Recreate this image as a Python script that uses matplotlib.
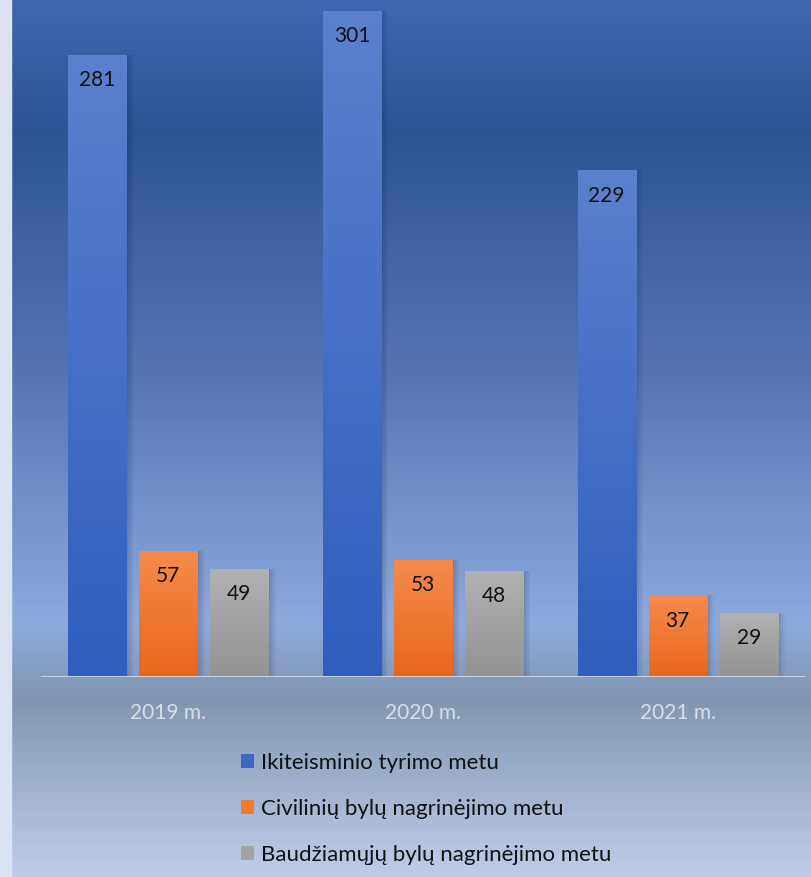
import numpy as np
import matplotlib.pyplot as plt
from matplotlib.colors import LinearSegmentedColormap
from matplotlib.patches import Patch, Rectangle

plt.rcParams['font.family'] = ['Lato', 'DejaVu Sans']

years = ['2019 m.', '2020 m.', '2021 m.']
series_names = ['Ikiteisminio tyrimo metu',
                'Civilinių bylų nagrinėjimo metu',
                'Baudžiamųjų bylų nagrinėjimo metu']
pretrial = [281, 301, 229]
civil = [57, 53, 37]
criminal = [49, 48, 29]

# top / bottom colours of each bar gradient
bar_grads = [('#5b80cd', '#2e5fbd'), ('#f58c4e', '#e8661a'), ('#b2b2b2', '#939393')]
legend_cols = ['#3c68c4', '#ee7a33', '#a3a3a3']

W, H = 811, 877
fig = plt.figure(figsize=(W / 100, H / 100), dpi=100)

# background gradient
bg = fig.add_axes([0, 0, 1, 1], zorder=-10)
stops = [(0.0, '#3e67b1'), (130 / H, '#2d5495'), (360 / H, '#5272b2'),
         (625 / H, '#8eaadd'), (700 / H, '#8396b0'), (1.0, '#bfcce8')]
bg_cmap = LinearSegmentedColormap.from_list('bg', stops)
bg.imshow(np.linspace(0, 1, 400).reshape(-1, 1), cmap=bg_cmap, aspect='auto',
          extent=[0, 1, 1, 0])
bg.set_xlim(0, 1)
bg.set_ylim(1, 0)
bg.axis('off')
bg.add_patch(Rectangle((0, 0), 11 / W, 1, color='#dbe3f3', zorder=5))

ax = fig.add_axes([41 / W, 200 / H, 764 / W, 677 / H])
ax.patch.set_alpha(0)
x = np.arange(len(years))
width = 0.228
step = 0.279

for k, vals in enumerate([pretrial, civil, criminal]):
    c_top, c_bot = bar_grads[k]
    cmap = LinearSegmentedColormap.from_list('b%d' % k, [c_bot, c_top])
    bars = ax.bar(x + (k - 1) * step, vals, width, color='none', zorder=3)
    for b, v in zip(bars, vals):
        x0, w, h = b.get_x(), b.get_width(), b.get_height()
        # soft shadow
        for i, a in enumerate([0.07, 0.06, 0.05, 0.04]):
            off = 0.006 * (i + 1)
            ax.add_patch(Rectangle((x0 + off * 0.6, -1), w + off * 0.6, h + 1 - off * 8,
                                   color='#0a1a40', alpha=a, lw=0, zorder=2))
        im = ax.imshow(np.linspace(0, 1, 200).reshape(-1, 1), cmap=cmap,
                       origin='lower', aspect='auto', extent=[x0, x0 + w, 0, h],
                       zorder=3)
        im.set_clip_path(b)
        ax.text(x0 + w / 2, h - 11.5, str(v), ha='center', va='center',
                fontsize=15, color='#111111', zorder=4)

ax.set_xlim(-0.5, 2.5)
ax.set_ylim(0, 677 / 2.2135)
ax.axhline(0, color='#d3d8e2', lw=2, zorder=5)
for s in ax.spines.values():
    s.set_visible(False)
ax.set_yticks([])
ax.set_xticks(x)
ax.set_xticklabels(years, fontsize=15, color='#d9dde6')
ax.tick_params(axis='x', length=0, pad=19)

handles = [Patch(facecolor=c, edgecolor='none') for c in legend_cols]
fig.legend(handles, series_names, loc='upper left',
           bbox_to_anchor=(221 / W, 1 - 733 / H), frameon=False,
           fontsize=16, handlelength=0.6, handleheight=0.6,
           handletextpad=0.32, labelspacing=1.17, labelcolor='#111111')

fig.savefig('out.png', dpi=100)
